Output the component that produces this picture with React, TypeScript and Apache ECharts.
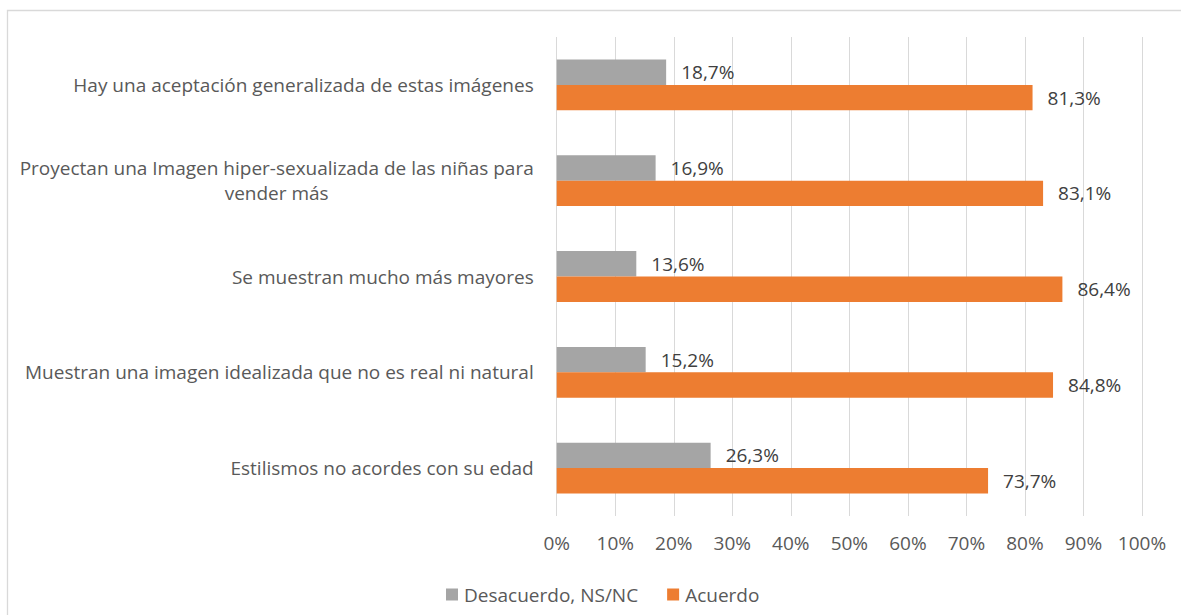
import React, { useEffect, useRef } from "react";
import * as echarts from "echarts";

const categories = [
  "Hay una aceptación generalizada de estas imágenes",
  "Proyectan una Imagen hiper-sexualizada de las niñas para\nvender más",
  "Se muestran mucho más mayores",
  "Muestran una imagen idealizada que no es real ni natural",
  "Estilismos no acordes con su edad",
];
const desacuerdo = [18.7, 16.9, 13.6, 15.2, 26.3];
const acuerdo = [81.3, 83.1, 86.4, 84.8, 73.7];
const seriesNames = ["Desacuerdo, NS/NC", "Acuerdo"];

const FONT = "Open Sans";
const FS = 19;

export default function App() {
  const ref = useRef<HTMLDivElement>(null);
  useEffect(() => {
    const chart = echarts.init(ref.current!, null, { renderer: "svg" });
    const labelFmt = (p: any) => p.value.toFixed(1).replace(".", ",") + "%";
    chart.setOption({
      animation: false,
      backgroundColor: "#ffffff",
      graphic: [
        {
          type: "rect",
          shape: { x: 7.5, y: 10.5, width: 1190, height: 630 },
          style: { fill: "none", stroke: "#d9d9d9", lineWidth: 1.3 },
          silent: true,
        },
      ],
      grid: { left: 556.7, right: 39, top: 37, bottom: 99, containLabel: false },
      legend: {
        data: seriesNames,
        left: 441,
        top: 580,
        itemWidth: 12,
        itemHeight: 12,
        itemGap: 29,
        icon: "rect",
        textStyle: { fontFamily: FONT, fontSize: FS, color: "#595959", padding: [0, 0, 0, 1] },
      },
      xAxis: {
        type: "value",
        min: 0,
        max: 100,
        interval: 10,
        axisLine: { show: false },
        axisTick: { show: false },
        splitLine: { show: true, lineStyle: { color: "#d9d9d9", width: 1 } },
        axisLabel: {
          formatter: "{value}%",
          fontFamily: FONT,
          fontSize: FS,
          color: "#595959",
          margin: 17,
        },
      },
      yAxis: {
        type: "category",
        data: categories,
        inverse: true,
        axisLine: { show: false },
        axisTick: { show: false },
        splitLine: { show: false },
        axisLabel: {
          margin: 23,
          align: "right",
          formatter: (v: string) =>
            v
              .split("\n")
              .map((l) => `{c|${l}}`)
              .join("\n"),
          rich: {
            c: {
              align: "center",
              fontFamily: FONT,
              fontSize: FS,
              color: "#595959",
              lineHeight: 25,
            },
          },
        },
      },
      series: [
        {
          name: seriesNames[0],
          type: "bar",
          data: desacuerdo,
          barGap: "0%",
          barCategoryGap: "47%",
          itemStyle: { color: "#a5a5a5" },
          label: {
            show: true,
            position: "right",
            distance: 15,
            formatter: labelFmt,
            fontFamily: FONT,
            fontSize: FS,
            color: "#404040",
          },
        },
        {
          name: seriesNames[1],
          type: "bar",
          data: acuerdo,
          barGap: "0%",
          barCategoryGap: "47%",
          itemStyle: { color: "#ed7d31" },
          label: {
            show: true,
            position: "right",
            distance: 15,
            formatter: labelFmt,
            fontFamily: FONT,
            fontSize: FS,
            color: "#404040",
          },
        },
      ],
    });
    return () => chart.dispose();
  }, []);
  return (
    <div
      ref={ref}
      style={{ position: "absolute", left: 0, top: 0, width: 1181, height: 615 }}
    />
  );
}
